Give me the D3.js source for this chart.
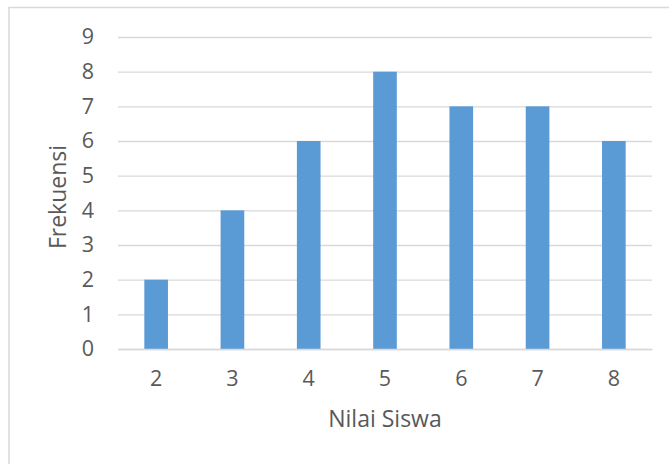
<!DOCTYPE html>
<html>
<head>
<meta charset="utf-8">
<script src="https://cdn.jsdelivr.net/npm/d3@7"></script>
<style>
html,body{margin:0;padding:0;background:#fff;}
svg{display:block;}
text{font-family:"Open Sans","Noto Sans",sans-serif;fill:#595959;}
</style>
</head>
<body>
<svg id="chart" width="669" height="464"></svg>
<script>
const categories = ["2","3","4","5","6","7","8"];
const frequencies = [2,4,6,8,7,7,6];
const yTicks = [0,1,2,3,4,5,6,7,8,9];
const xTitle = "Nilai Siswa";
const yTitle = "Frekuensi";

const svg = d3.select("#chart");
const W = 669, H = 464;
const m = {left:118, right:17, top:37, bottom:115};

// chart border (top and left visible)
svg.append("path")
  .attr("d", `M9,${H} L9,7.5 L${W},7.5`)
  .attr("fill","none").attr("stroke","#d9d9d9").attr("stroke-width",1.5);

const x = d3.scaleBand().domain(categories).range([m.left, W-m.right]).paddingInner(0.69).paddingOuter(0.345);
const y = d3.scaleLinear().domain([0,9]).range([H-m.bottom, m.top]);

// gridlines
const yAxis = d3.axisLeft(y).tickValues(yTicks).tickSize(-(W-m.right-m.left)).tickPadding(24).tickFormat(d3.format("d"));
const gy = svg.append("g").attr("transform",`translate(${m.left},0)`).call(yAxis);
gy.select(".domain").remove();
gy.selectAll(".tick line").attr("stroke","#d9d9d9").attr("stroke-width",1.3);
gy.selectAll(".tick text").attr("font-size",21.5).attr("fill","#595959")
  .attr("font-family",'"Open Sans","Noto Sans",sans-serif');

// bars
svg.append("g").selectAll("rect").data(categories).join("rect")
  .attr("x", d => x(d))
  .attr("width", x.bandwidth())
  .attr("y", (d,i) => y(frequencies[i]))
  .attr("height", (d,i) => y(0) - y(frequencies[i]))
  .attr("fill","#5b9bd5");

// x axis
const xAxis = d3.axisBottom(x).tickSize(0).tickPadding(22);
const gx = svg.append("g").attr("transform",`translate(0,${y(0)})`).call(xAxis);
gx.select(".domain").attr("stroke","#d9d9d9").attr("stroke-width",1.3);
gx.selectAll(".tick text").attr("font-size",21.5).attr("fill","#595959")
  .attr("font-family",'"Open Sans","Noto Sans",sans-serif');

// titles
svg.append("text").attr("x",(m.left+W-m.right)/2).attr("y",426.5)
  .attr("text-anchor","middle").attr("font-size",23).text(xTitle);
svg.append("text").attr("transform",`translate(65.5,${(m.top+H-m.bottom)/2+4}) rotate(-90)`)
  .attr("text-anchor","middle").attr("font-size",23).text(yTitle);
</script>
</body>
</html>
